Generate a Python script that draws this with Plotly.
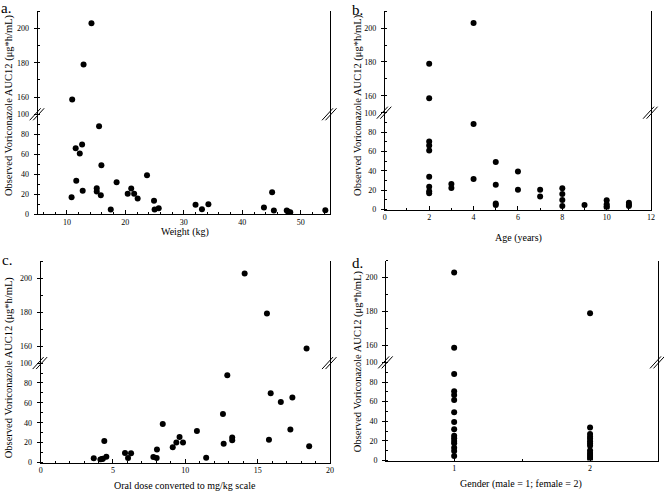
import numpy as np
import plotly.graph_objects as go

W, H = 664, 497
FONT = "Liberation Serif"

# ---------------- data ----------------
weight_kg = [14.2, 12.85, 10.9, 15.5, 12.6, 11.5, 12.2, 15.9, 11.6, 18.5, 23.7, 10.8,
             12.7, 15.1, 15.1, 15.8, 17.5, 20.4, 21.0, 21.5, 22.1, 24.9, 25.0, 25.7,
             32.0, 33.1, 34.2, 43.7, 45.1, 45.4, 47.6, 47.8, 48.2, 54.2]
auc_weight = [203, 179, 158.6, 87.9, 69.8, 65.9, 60.7, 48.9, 33.4, 31.8, 39.0, 17.0,
              23.3, 25.9, 22.6, 19.0, 4.6, 20.3, 25.6, 20.3, 15.7, 13.4, 4.6, 5.9,
              9.5, 4.9, 9.8, 6.6, 22.0, 3.6, 3.6, 2.6, 2.0, 3.9]

age_years = [2, 2, 2, 2, 2, 2, 2, 2, 2, 3, 3, 4, 4, 4, 5, 5, 5, 5, 6, 6, 7, 7,
             8, 8, 8, 8, 9, 10, 10, 10, 10, 11, 11, 11]
auc_age = [179, 158.6, 70.3, 66, 61, 33.8, 23.6, 18.9, 16.9, 26.4, 22.3, 203, 88.2, 31.4,
           49, 25.7, 6.1, 4.7, 39.2, 20.3, 20.3, 13.5, 22, 15.9, 9.8, 3.7, 4.7,
           9.5, 5.4, 3.4, 2, 7.1, 5, 3.7]

dose_mgkg = [14.1, 15.64, 18.38, 12.9, 15.9, 16.6, 17.4, 12.6, 8.44, 10.8, 17.26, 4.4,
             9.6, 13.24, 13.24, 15.78, 12.65, 9.38, 9.84, 9.13, 8.04, 18.56, 5.83, 6.25,
             6.04, 7.79, 8.02, 11.44, 3.67, 4.13, 4.24, 4.3, 4.54]
auc_dose = [202.8, 179.2, 158.6, 87.8, 69.7, 60.9, 65.5, 48.7, 38.8, 31.6, 33.2, 21.7,
            25.7, 25.3, 22.4, 23.0, 18.8, 20.1, 20.1, 15.5, 13.1, 16.4, 9.6, 9.3,
            4.6, 5.6, 4.6, 4.9, 4.2, 3.0, 3.5, 3.8, 5.9]

gender = [1, 1, 1, 1, 1, 1, 1, 1, 1, 1, 1, 1, 1, 1, 1, 1,
          2, 2, 2, 2, 2, 2, 2, 2, 2, 2, 2, 2, 2]
auc_gender = [203, 158.6, 88.3, 70.7, 66.7, 61.7, 49.3, 39.3, 32, 25.3, 22.7, 20, 17.7, 13, 9.7, 4.7,
              179, 33.7, 27, 24.3, 22.3, 19.7, 17.3, 15, 10.3, 7.7, 5.7, 3.7, 1.7]

y_title = "Observed Voriconazole AUC12 (μg*h/mL)"

# ---------------- panel layout (pixel geometry) ----------------
panels = [
    dict(x=weight_kg, y=auc_weight, px=(36, 331), yb=214, ybrk=112.3, yt=7.3,
         xr=[5, 55], xdt=10, xminor=2, xtv=None, xtitle="Weight (kg)",
         xtpos=(185, 232), ytpos=(7, 103), letter="a.", lpos=(4, 4)),
    dict(x=age_years, y=auc_age, px=(386.3, 655), yb=209.3, ybrk=110.7, yt=7.3,
         xr=[0, 12], xdt=2, xminor=1, xtv=None, xtitle="Age (years)",
         xtpos=(521, 238), ytpos=(359, 103), letter="b.", lpos=(359, 6)),
    dict(x=dose_mgkg, y=auc_dose, px=(39, 331), yb=467, ybrk=365.7, yt=262,
         xr=[0, 20], xdt=5, xminor=1, xtv=None, xtitle="Oral dose converted to mg/kg scale",
         xtpos=(185, 490), ytpos=(7, 370), letter="c.", lpos=(5, 261)),
    dict(x=gender, y=auc_gender, px=(387.7, 662), yb=465, ybrk=365, yt=261.3,
         xr=[0.5, 2.5], xdt=1, xminor=0.5, xtv=[1, 2], xtitle="Gender (male = 1; female = 2)",
         xtpos=(524, 489), ytpos=(360, 364), letter="d.", lpos=(359, 264)),
]


def fx(p):
    return p / W


def fy(p):
    return 1 - p / H


fig = go.Figure()
layout = {}
shapes = []
annotations = []

for i, P in enumerate(panels):
    n = 2 * i + 1
    xa, xt, yl, yu = f"x{n if n > 1 else ''}", f"x{n + 1}", f"y{n if n > 1 else ''}", f"y{n + 1}"
    xk, xtk, ylk, yuk = ("xaxis" + (str(n) if n > 1 else ""), f"xaxis{n + 1}",
                         "yaxis" + (str(n) if n > 1 else ""), f"yaxis{n + 1}")
    xs = np.asarray(P["x"], dtype=float)
    ys = np.asarray(P["y"], dtype=float)
    lo = ys <= 100
    mk = dict(color="black", size=6, line=dict(width=0))
    fig.add_trace(go.Scatter(x=xs[lo], y=ys[lo], mode="markers", marker=mk,
                             xaxis=xa, yaxis=yl, showlegend=False, hoverinfo="skip"))
    fig.add_trace(go.Scatter(x=xs[~lo], y=ys[~lo], mode="markers", marker=mk,
                             xaxis=xa, yaxis=yu, showlegend=False, hoverinfo="skip"))

    xdom = [fx(P["px"][0]), fx(P["px"][1])]
    lowdom = [fy(P["yb"]), fy(P["ybrk"])]
    updom = [fy(P["ybrk"]), fy(P["yt"])]

    xcommon = dict(range=P["xr"], showgrid=False, zeroline=False, showline=True,
                   linecolor="black", linewidth=1, ticks="inside", ticklen=4,
                   tickcolor="black", tickwidth=1, fixedrange=True,
                   minor=dict(ticks="inside", ticklen=2, dtick=P["xminor"],
                              tickcolor="black", tickwidth=1, showgrid=False))
    if P["xtv"] is None:
        xcommon.update(dtick=P["xdt"], tick0=0, tickmode="linear")
    else:
        xcommon.update(tickmode="array", tickvals=P["xtv"],
                       ticktext=[str(v) for v in P["xtv"]])
        xcommon["minor"].update(tick0=0.5)

    layout[xk] = dict(domain=xdom, anchor=yl,
                      tickfont=dict(family=FONT, size=8, color="#000000"), **xcommon)
    layout[xtk] = dict(overlaying=xa, anchor=yu, side="top", showticklabels=False,
                       **xcommon)

    ycommon = dict(showgrid=False, zeroline=False, showline=True, mirror=True,
                   linecolor="black", linewidth=1, ticks="outside", ticklen=3,
                   tickcolor="black", tickwidth=1, fixedrange=True,
                   ticklabelstandoff=3,
                   minor=dict(ticks="inside", ticklen=2, dtick=10, tick0=0,
                              tickcolor="black", tickwidth=1, showgrid=False))
    layout[ylk] = dict(domain=lowdom, anchor=xa, range=[0, 100], tickmode="linear",
                       tick0=0, dtick=20,
                       tickfont=dict(family=FONT, size=8, color="#000000"), **ycommon)
    layout[yuk] = dict(domain=updom, anchor=xa, range=[150, 210], tickmode="linear",
                       tick0=160, dtick=20,
                       tickfont=dict(family=FONT, size=8, color="#000000"), **ycommon)

    # axis-break marks on left and right borders
    for edge in (0, 1):
        for off in (-2, 1.5):
            shapes.append(dict(type="line", xref=f"{xa} domain", yref="paper",
                               xsizemode="pixel", ysizemode="pixel",
                               xanchor=edge, yanchor=fy(P["ybrk"]),
                               x0=-6 + off, x1=5 + off, y0=-6, y1=6,
                               line=dict(color="black", width=1)))

    annotations.append(dict(text=P["xtitle"], x=fx(P["xtpos"][0]), y=fy(P["xtpos"][1]),
                            xref="paper", yref="paper", showarrow=False,
                            xanchor="center", yanchor="middle",
                            font=dict(family=FONT, size=10, color="black")))
    annotations.append(dict(text=y_title, x=fx(P["ytpos"][0]), y=fy(P["ytpos"][1]),
                            xref="paper", yref="paper", showarrow=False, textangle=-90,
                            xanchor="center", yanchor="middle",
                            font=dict(family=FONT, size=10.5, color="black")))
    annotations.append(dict(text=P["letter"], x=fx(P["lpos"][0]), y=fy(P["lpos"][1]),
                            xref="paper", yref="paper", showarrow=False,
                            xanchor="center", yanchor="middle",
                            font=dict(family=FONT, size=15, color="black")))

fig.update_layout(width=W, height=H, margin=dict(l=0, r=0, t=0, b=0),
                  paper_bgcolor="white", plot_bgcolor="white", hovermode=False,
                  shapes=shapes, annotations=annotations, **layout)

fig.write_html("out.html", config={"displayModeBar": False, "staticPlot": True},
               post_script="document.body.style.margin='0';"
                           "document.body.style.overflow='hidden';")
